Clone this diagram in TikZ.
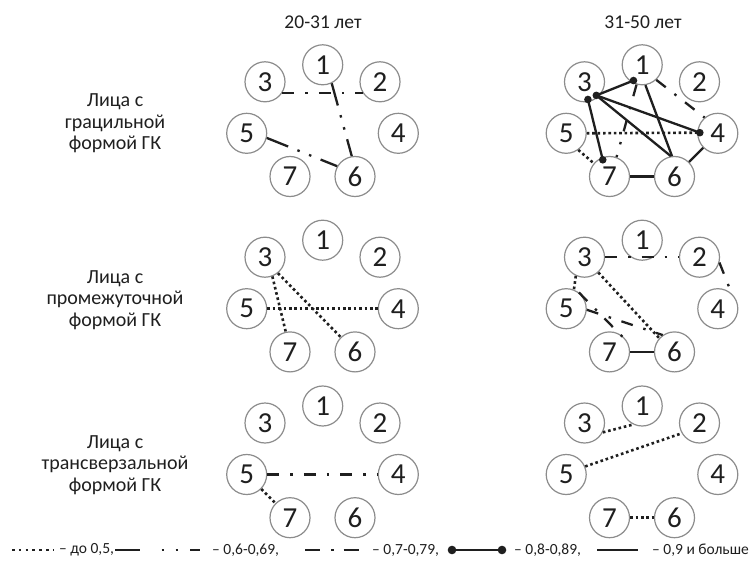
\documentclass[tikz,border=0pt]{standalone}
\usepackage{fontspec}
\setmainfont{Carlito}
\usetikzlibrary{calc}
\definecolor{circgray}{HTML}{8C8C8C}
\definecolor{txt}{HTML}{1F1F1F}
\tikzset{
  nd/.style={circle, draw=circgray, line width=1.2pt, minimum size=40pt, inner sep=0pt,
    font=\fontsize{29}{29}\selectfont, text=txt},
  dotl/.style={line width=2.6pt, dash pattern=on 2.6pt off 2.8pt, txt},
  ddot/.style={line width=2.3pt, dash pattern=on 23pt off 10pt on 2.5pt off 10pt on 2.5pt off 10pt, txt},
  dadot/.style={line width=2.3pt, dash pattern=on 12pt off 11pt on 2.5pt off 11pt, txt},
  solidl/.style={line width=2.3pt, txt},
  lbl/.style={font=\fontsize{20}{21.7}\selectfont, text=txt, align=center},
  hdr/.style={font=\fontsize{19.5}{21}\selectfont, text=txt},
  leg/.style={font=\fontsize{15.5}{16}\selectfont, text=txt, anchor=west, inner sep=0pt},
}
\newcommand\sevenset[3]{%
  \begin{scope}[shift={(#2,#3)}]
    \node[nd] (#1-1) at (0,0) {1};
    \node[nd] (#1-3) at (-57.7,17) {3};
    \node[nd] (#1-2) at (57.3,17) {2};
    \node[nd] (#1-5) at (-76,68.5) {5};
    \node[nd] (#1-4) at (75.6,68.5) {4};
    \node[nd] (#1-7) at (-32.7,111.7) {7};
    \node[nd] (#1-6) at (32.3,111.7) {6};
  \end{scope}}
\begin{document}
\begin{tikzpicture}[x=1pt,y=-1pt]
\fill[white] (0,0) rectangle (754,564);
\useasboundingbox (0,0) rectangle (754,564);

% headings
\node[hdr] (h1) at (323,22) {20-31 лет};
\node[hdr] (h2) at (643,22) {31-50 лет};
\node[lbl] (r1) at (115,123.3) {Лица с\\грацильной\\формой ГК};
\node[lbl] (r2) at (115,300) {Лица с\\промежуточной\\формой ГК};
\node[lbl] (r3) at (115,465) {Лица с\\трансверзальной\\формой ГК};

% circles
\sevenset{a}{322.7}{64.8}
\sevenset{b}{642.2}{64.8}
\sevenset{c}{322.7}{240.2}
\sevenset{d}{642.2}{240.2}
\sevenset{e}{322.7}{406}
\sevenset{f}{642.2}{406}

% group a
\draw[dadot] (a-3.-33) -- (a-2.213);
\draw[ddot] (a-1.-64) -- (a-6.99);
\draw[ddot] (a-5.-13) -- (a-6.150);

% group b
\coordinate (b3a) at ($(b-3)+(-49:18pt)$);
\coordinate (b3b) at ($(b-3)+(-79:18pt)$);
\coordinate (b1p) at ($(b-1)+(-119:18pt)$);
\coordinate (b4p) at ($(b-4)+(178:18pt)$);
\coordinate (b7p) at ($(b-7)+(112:18pt)$);
\draw[dadot] (b-1.-47) -- (b-4.130);
\draw[dadot] (b-1.-106) -- (b-7.70);
\draw[dotl] (b-5.east) -- (b4p);
\draw[dotl] (b-5.-54) -- (b-7.140);
\draw[solidl] (b3a) -- (b1p);
\draw[solidl] (b3a) -- (b4p);
\draw[solidl] (b3b) -- (b7p);
\draw[solidl] (b3a) -- (b-6.100);
\draw[solidl] (b-1.-81) -- (b-6.97);
\draw[solidl] (b-7) -- (b-6);
\draw[solidl] (b-4) -- (b-6);
\foreach \p in {b3a,b3b,b1p,b4p,b7p} \fill[txt] (\p) circle (3.8pt);

% group c
\draw[dotl] (c-3.-69) -- (c-7.102);
\draw[dotl] (c-3.-51) -- (c-6.134);
\draw[dotl] (c-5) -- (c-4);

% group d
\draw[dadot] (d-3) -- (d-2);
\draw[dadot] (d-2.-15) -- (d-4.48);
\draw[dotl] (d-3.-115) -- (d-5.68);
\draw[dotl] (d-3.-48) -- (d-6.138);
\draw[dadot] (d-5.-3) -- (d-6.125);
\draw[dadot] (d-5.52) -- (d-7.29);
\draw[solidl] (d-7) -- (d-6);

% group e
\draw[dadot] (e-5) -- (e-4);
\draw[dotl] (e-5) -- (e-7);

% group f
\draw[dotl] (f-3.-27) -- (f-1.-116);
\draw[dotl] (f-5.23) -- (f-2.210);
\draw[dotl] (f-7) -- (f-6);

% legend
\coordinate (l1a) at (12,550); \coordinate (l1b) at (53,550);
\draw[line width=2.6pt, dash pattern=on 2.6pt off 4.2pt, txt] (l1a) -- (l1b);
\node[leg] (t1) at (59,550) {– до 0,5,};
\coordinate (l2a) at (115,550); \coordinate (l2b) at (200,550);
\draw[line width=2.3pt, dash pattern=on 25pt off 21.5pt on 2.5pt off 11.5pt on 2.5pt off 12pt, txt] (l2a) -- (l2b);
\node[leg] (t2) at (212,550) {– 0,6-0,69,};
\coordinate (l3a) at (305,550); \coordinate (l3b) at (361,550);
\draw[line width=2.3pt, dash pattern=on 15pt off 11pt on 2.5pt off 10pt, txt] (l3a) -- (l3b);
\node[leg] (t3) at (372,550) {– 0,7-0,79,};
\coordinate (l4a) at (452,550); \coordinate (l4b) at (502,550);
\draw[solidl] (l4a) -- (l4b);
\fill[txt] (l4a) circle (4.3pt) (l4b) circle (4.3pt);
\node[leg] (t4) at (514,550) {– 0,8-0,89,};
\coordinate (l5a) at (597,550); \coordinate (l5b) at (638,550);
\draw[solidl] (l5a) -- (l5b);
\node[leg] (t5) at (652,550) {– 0,9 и больше};
\end{tikzpicture}
\end{document}
